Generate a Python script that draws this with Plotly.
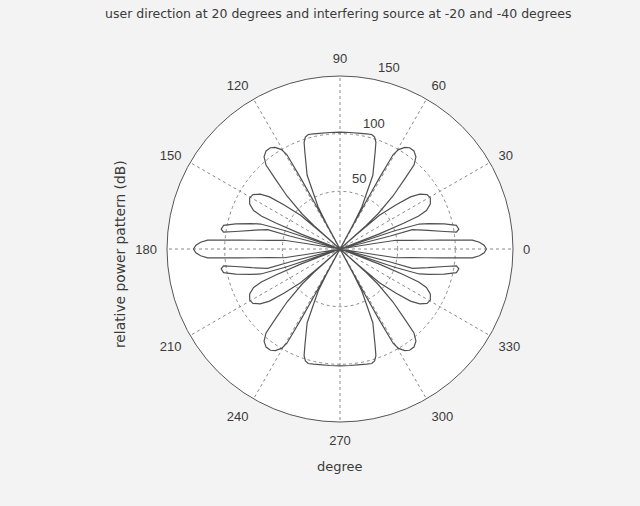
import math
import plotly.graph_objects as go

# Traced outline of the pattern in the first quadrant (angle in degrees, relative power)
q1_theta = [0, 1.5, 2.8, 3.8, 4.4, 5.0, 5.8, 7.0, 8.9, 9.2, 9.3,
            14.5, 15.0, 12.0, 9.5, 8.2, 9.5, 11.5, 13.5, 16.0, 17.5, 18.5, 19.0,
            20.5, 21.0, 22.0, 22.8, 24.0, 26.5, 29.5, 32.0, 34.5, 36.5, 38.2, 40.5, 41.2, 41.4,
            41.6, 42.0, 42.8, 45.0, 47.3, 48.6, 50.5, 53.0, 55.5, 57.5, 59.5, 60.6, 61.0, 61.2, 61.4,
            61.5, 61.8, 62.5, 66.0, 70.0, 71.4, 72.8, 74.5, 77.0, 80.0, 85.0, 90.0]
q1_r = [127, 125, 121, 115, 100, 88, 75, 62, 49, 30, 0,
        45, 65, 78, 92, 102, 104.5, 103, 93, 80, 72, 50, 0,
        0, 36, 60, 74, 82, 87.5, 90, 89, 84, 76, 62, 45, 20, 0,
        0, 30, 45, 65, 83, 97, 103.5, 106.5, 106.5, 104.5, 100, 94, 70, 44, 0,
        0, 25, 41, 70, 89, 97.6, 101.5, 103, 102.5, 101.8, 101.4, 101.4]

angle_ticks = [0, 30, 60, 90, 120, 150, 180, 210, 240, 270, 300, 330]
radial_ticks = [50, 100, 150]
r_max = 150

title_text = "user direction at 20 degrees and interfering source at -20 and -40 degrees"
ylabel_text = "relative power pattern (dB)"
xlabel_text = "degree"

# Pattern is symmetric about both axes: build full outline from the traced quadrant
theta = list(q1_theta)
r = list(q1_r)
theta += [180 - t for t in reversed(q1_theta)]
r += list(reversed(q1_r))
theta += [180 + t for t in q1_theta]
r += list(q1_r)
theta += [360 - t for t in reversed(q1_theta)]
r += list(reversed(q1_r))

# polar geometry (pixels)
W, H = 640, 506
CX, CY, RAD = 340, 249, 173

grey = "#3a3a3a"
fig = go.Figure()
fig.add_trace(go.Scatterpolar(theta=theta, r=r, mode="lines",
                              line=dict(color="#505050", width=1.2),
                              showlegend=False, hoverinfo="skip"))

# MATLAB-style ring labels just outside each ring, along ~75 degrees
ring_label_angle = 75
ring_annots = []
for v in radial_ticks:
    rp = (v + 13) / r_max * RAD
    a = math.radians(ring_label_angle)
    ring_annots.append(dict(text=str(v), x=(CX + rp * math.cos(a)) / W,
                            y=1 - (CY - rp * math.sin(a)) / H,
                            xref="paper", yref="paper", showarrow=False,
                            xanchor="center", yanchor="middle",
                            font=dict(family="Liberation Sans, Arial, sans-serif",
                                      size=13, color=grey)))

fig.update_layout(
    width=W, height=H,
    margin=dict(l=0, r=0, t=0, b=0),
    paper_bgcolor="#f3f3f3",
    font=dict(family="Liberation Sans, Arial, sans-serif", size=13, color=grey),
    polar=dict(
        domain=dict(x=[(CX - RAD) / W, (CX + RAD) / W],
                    y=[1 - (CY + RAD) / H, 1 - (CY - RAD) / H]),
        bgcolor="white",
        radialaxis=dict(range=[0, r_max], tickvals=radial_ticks,
                        showticklabels=False,
                        angle=76, showline=False, ticks="",
                        gridcolor="#8a8a8a", griddash="dot", gridwidth=1),
        angularaxis=dict(rotation=0, direction="counterclockwise",
                         tickmode="array", tickvals=angle_ticks,
                         ticktext=[str(v) for v in angle_ticks],
                         showline=True, linecolor="#555555", linewidth=1,
                         ticks="outside", ticklen=7, tickcolor="rgba(0,0,0,0)",
                         gridcolor="#8a8a8a", griddash="dot", gridwidth=1,
                         tickfont=dict(size=13, color=grey)),
    ),
    annotations=ring_annots + [
        dict(text=title_text, x=338 / W, y=1 - 14 / H, xref="paper", yref="paper",
             showarrow=False, font=dict(family="DejaVu Sans, sans-serif", size=12.5, color=grey),
             xanchor="center", yanchor="middle"),
        dict(text=ylabel_text, x=120 / W, y=1 - 254 / H, xref="paper", yref="paper",
             showarrow=False, textangle=-90,
             font=dict(family="DejaVu Sans, sans-serif", size=13.8, color=grey),
             xanchor="center", yanchor="middle"),
        dict(text=xlabel_text, x=340 / W, y=1 - 466 / H, xref="paper", yref="paper",
             showarrow=False, font=dict(family="DejaVu Sans, sans-serif", size=13, color=grey),
             xanchor="center", yanchor="middle"),
    ],
)

fig.write_html("out.html")
